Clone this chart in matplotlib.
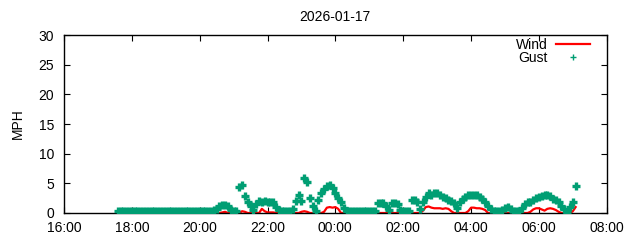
import matplotlib
matplotlib.use("Agg")
import matplotlib.pyplot as plt
import matplotlib.dates as mdates
import pandas as pd

plt.rcParams['font.family'] = ['Liberation Sans', 'DejaVu Sans']

title = "2026-01-17"
ylabel = "MPH"
start_time = "2026-01-17 17:35"
x_start = "2026-01-17 16:00"
x_end = "2026-01-18 08:00"

# gust values, 5-minute samples from 17:35
gust = (
    [0.3, 0.3, 0.4, 0.3, 0.3]
    + [0.3, 0.4, 0.3, 0.3, 0.3, 0.4, 0.3, 0.3, 0.4, 0.3, 0.3, 0.3]   # 18
    + [0.4, 0.3, 0.3, 0.3, 0.4, 0.3, 0.3, 0.3, 0.4, 0.3, 0.3, 0.3]   # 19
    + [0.3, 0.3, 0.4, 0.3, 0.3, 0.5, 0.6, 1.1, 1.4, 1.3, 1.1, 0.5]   # 20
    + [0.3, 0.3, 4.4, 4.7, 2.8, 1.8, 1.2, 0.5, 1.6, 2.0, 1.9, 2.0]   # 21
    + [1.9, 1.9, 1.8, 1.0, 0.5, 0.3, 0.3, 0.3, 0.3, 0.6, 2.0, 3.0]   # 22
    + [2.0, 5.9, 5.2, 2.5, 1.2, 0.3, 2.2, 3.3, 4.0, 4.5, 4.7, 4.2]   # 23
    + [3.4, 2.6, 1.8, 0.9, 0.3, 0.3, 0.4, 0.3, 0.3, 0.3, 0.3, 0.3]   # 00
    + [0.3, 0.3, 0.3, 1.7, 1.7, 1.7, 1.2, 0.5, 1.7, 1.7, 1.6, 0.5]   # 01
    + [0.3, 0.3, 0.3, 2.2, 2.2, 1.9, 0.6, 1.9, 2.7, 3.3, 3.0, 3.3]   # 02
    + [3.3, 3.0, 2.7, 2.5, 2.2, 2.0, 1.7, 0.8, 1.9, 2.3, 2.7, 3.0]   # 03
    + [3.1, 3.1, 3.0, 2.7, 2.4, 1.8, 1.2, 0.6, 0.3, 0.3, 0.3, 0.5]   # 04
    + [0.9, 1.0, 0.7, 0.3, 0.3, 0.3, 0.9, 1.6, 1.8, 1.9, 2.2, 2.6]   # 05
    + [2.7, 2.8, 3.0, 3.1, 2.8, 2.4, 2.2, 1.9, 1.2, 0.6, 0.2, 1.0]   # 06
    + [1.9, 4.6]                                                     # 07
)

wind = (
    [0, 0, 0, 0, 0]
    + [0] * 12                                                       # 18
    + [0] * 12                                                       # 19
    + [0, 0, 0, 0, 0, 0, 0, 0, 0.1, 0.2, 0, 0]                       # 20
    + [0, 0, 0, 0.3, 0.2, 0, 0, 0, 0, 0, 0.7, 0.3]                   # 21
    + [0.1, 0.1, 0.1, 0, 0, 0, 0, 0, 0, 0, 0, 0]                     # 22
    + [0.2, 0.3, 0.2, 0, 0, 0, 0, 0, 0.2, 0.9, 1.0, 0.9]             # 23
    + [1.0, 0.7, 0, 0, 0, 0, 0, 0, 0, 0, 0, 0]                       # 00
    + [0] * 12                                                       # 01
    + [0, 0, 0, 0, 0, 0, 0, 0.4, 1.0, 1.1, 0.9, 0.8]                 # 02
    + [0.8, 0.8, 0.7, 0.8, 0.7, 0.3, 0, 0, 0, 0, 0, 0.3]             # 03
    + [0.9, 0.9, 0.8, 0.8, 0.7, 0.5, 0, 0, 0, 0, 0, 0]               # 04
    + [0, 0, 0, 0, 0, 0, 0, 0, 0, 0.2, 0.6, 0.8]                     # 05
    + [0.8, 0.6, 0.4, 0.7, 0.8, 0.7, 0.5, 0.2, 0, 0, 0, 0]           # 06
    + [0.3, 1.0]                                                     # 07
)

times = pd.date_range(start_time, periods=len(gust), freq="5min")

fig = plt.figure(figsize=(6.4, 2.4), dpi=100)
ax = fig.add_axes([0.1, 0.1125, 0.848, 0.7415])

ax.plot(times, wind, color="#ff0000", lw=1.6, label="Wind", zorder=2)
ax.plot(times, gust, ls="none", marker="+", ms=6, mew=2.4,
        color="#009e73", label="Gust", zorder=3)

ax.set_xlim(pd.Timestamp(x_start), pd.Timestamp(x_end))
ax.set_ylim(0, 30)
ax.set_yticks([0, 5, 10, 15, 20, 25, 30])
ax.xaxis.set_major_locator(mdates.HourLocator(byhour=range(0, 24, 2)))
ax.xaxis.set_major_formatter(mdates.DateFormatter("%H:%M"))
ax.tick_params(direction="in", length=4, width=0.8, top=True, right=True,
               labelsize=10, colors="black")
ax.tick_params(axis="x", pad=5.5)
ax.tick_params(axis="y", pad=7)
for s in ax.spines.values():
    s.set_linewidth(1.0)

ax.set_title(title, fontsize=10, pad=10)
ax.set_ylabel(ylabel, fontsize=10, labelpad=10)

leg = ax.legend(loc="upper right", bbox_to_anchor=(0.975, 1.0),
                frameon=False, markerfirst=False,
                fontsize=10, handlelength=2.5, handletextpad=0.6,
                borderaxespad=0.0, borderpad=0.2, labelspacing=-0.08)
leg.legend_handles[1].set_markeredgewidth(1.0)
leg.legend_handles[1].set_markersize(5)

fig.savefig("out.png", dpi=100)
